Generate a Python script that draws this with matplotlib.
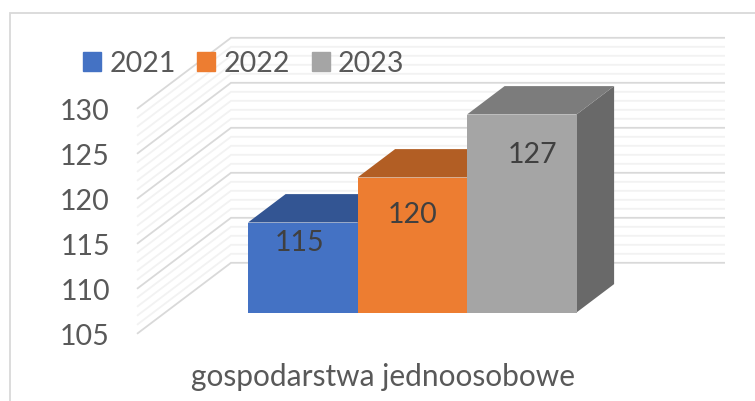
#!/usr/bin/env python
# coding=utf-8
import matplotlib
matplotlib.use('Agg')
import matplotlib.pyplot as plt
from matplotlib.lines import Line2D
from matplotlib.patches import Patch, Polygon

# Datos
anios = ['2021', '2022', '2023']
valores = [115, 120, 127]
ticks_y = [105, 110, 115, 120, 125, 130]
categoria = 'gospodarstwa jednoosobowe'

# Colores: frente, techo, lado
frente = ['#4472C4', '#ED7D31', '#A5A5A5']
techo = ['#335593', '#B25E24', '#7C7C7C']
lado = ['#294475', '#8E4B1D', '#696969']

W, H = 755, 401
PX_X = 109.5  # pixeles por barra
PX_Y = 9.0  # pixeles por unidad
X0, Y0 = 248.0, 312.5  # esquina frontal de la primera barra
DX, DY = 94.0 / PX_X, 71.0 / PX_Y  # profundidad total de la caja
BASE = 105
D_INI, D_FIN = 0.30, 0.70  # profundidad de las barras
FS_NUM = 20.5
FS_CAT = 21.5


def p(x, v, d):
    # proyecta a la cara frontal de las barras, d es profundidad 0..1
    return x + (d - D_INI) * DX, v + (d - D_INI) * DY


plt.rcParams['font.family'] = ['Lato', 'DejaVu Sans']
fig = plt.figure(figsize=(W / 100, H / 100), dpi=100)
ax = fig.add_axes([0, 0, 1, 1])
ax.set_xlim(-X0 / PX_X, (W - X0) / PX_X)
ax.set_ylim(BASE - (H - Y0) / PX_Y, BASE + Y0 / PX_Y)
ax.axis('off')

# Borde del grafico
fig.add_artist(Line2D([9.5 / W, 9.5 / W, 1], [0, 1 - 13 / H, 1 - 13 / H], color='#D9D9D9', lw=1.3,
                      solid_joinstyle='miter'))

# Grilla en las paredes: lateral y trasera
x_izq = (137.0 + D_INI * 94.0 - X0) / PX_X
for v in range(ticks_y[0], ticks_y[-1] + 1):
    mayor = v in ticks_y
    p0 = p(x_izq, v, 0)
    p1 = p(x_izq, v, 1)
    p2 = (p1[0] + 494.0 / PX_X, p1[1])
    ax.plot([p0[0], p1[0], p2[0]], [p0[1], p1[1], p2[1]], color='#D9D9D9' if mayor else '#F2F2F2',
            lw=1.3, solid_joinstyle='miter', solid_capstyle='butt', zorder=1 if mayor else 0.5)

# Barras con efecto 3D
for i, v in enumerate(valores):
    x1, x2 = i, i + 1
    esq_t = [p(x1, v, D_INI), p(x1, v, D_FIN), p(x2, v, D_FIN), p(x2, v, D_INI)]
    esq_l = [p(x2, BASE, D_INI), p(x2, BASE, D_FIN), p(x2, v, D_FIN), p(x2, v, D_INI)]
    ax.add_patch(Polygon(esq_l, closed=True, fc=lado[i], ec='none', zorder=2 + i))
    ax.add_patch(Polygon(esq_t, closed=True, fc=techo[i], ec='none', zorder=2 + i))
    ax.bar(i + 0.5, v - BASE, width=1, bottom=BASE, color=frente[i], zorder=2 + i)

# Etiquetas de las barras (desplazadas a mano, en puntos)
etiqueta_off = [(-2.5, -14.5), (0, -27), (8, -29.5)]
for i, v in enumerate(valores):
    ax.annotate(str(v), (i + 0.5, v), xytext=etiqueta_off[i], textcoords='offset points', ha='center',
                va='center', fontsize=FS_NUM, color='#404040', zorder=10)

# Eje Y
for t in ticks_y:
    ax.annotate(str(t), p(x_izq, t, 0), xytext=(-19.5, -2.5), textcoords='offset points', ha='right',
                va='center', fontsize=FS_NUM, color='#595959')

# Categoria
ax.annotate(categoria, (1.23, BASE), xytext=(0, -46.5), textcoords='offset points', ha='center', va='center',
            fontsize=FS_CAT, color='#595959')

# Leyenda
handles = [Patch(color=c, label=a) for c, a in zip(frente, anios)]
ax.legend(handles=handles, loc='center left', bbox_to_anchor=(83 / W, 1 - 63.5 / H), ncol=3, frameon=False,
          fontsize=FS_NUM, labelcolor='#595959', handlelength=0.64, handleheight=0.64, handletextpad=0.28,
          columnspacing=0.76, borderpad=0, borderaxespad=0)

fig.savefig('out.png', dpi=100)
